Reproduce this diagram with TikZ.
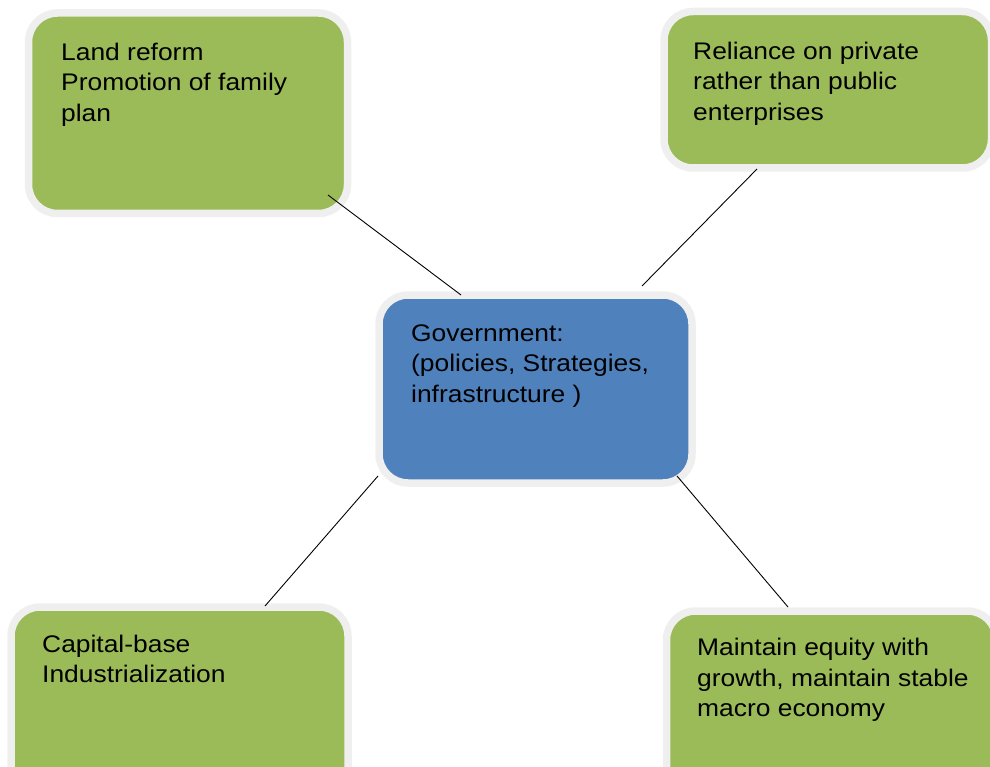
\documentclass[tikz,border=0pt]{standalone}
\usepackage{fontspec}
\setmainfont{Liberation Sans}[FakeStretch=1.1]
\definecolor{boxgreen}{HTML}{9BBB59}
\definecolor{boxblue}{HTML}{4F81BD}
\definecolor{rimgray}{HTML}{EFEFEF}
\tikzset{
  card/.style={draw=rimgray, line width=7.5pt, rounded corners=29pt, inner sep=0pt},
  greencard/.style={card, fill=boxgreen},
  bluecard/.style={card, fill=boxblue},
  label/.style={anchor=base west, inner sep=0pt, align=left, font=\fontsize{24pt}{30.5pt}\selectfont},
  link/.style={draw=black, line width=0.9pt}
}
\begin{document}
\begin{tikzpicture}[x=1pt, y=-1pt]
\useasboundingbox (0,0) rectangle (990,767);
% boxes
\node[greencard, minimum width=319pt, minimum height=200.5pt] (tl) at (188,113.25) {};
\node[greencard, minimum width=327.5pt, minimum height=156.5pt] (tr) at (827.75,89.75) {};
\node[bluecard, minimum width=313pt, minimum height=188pt] (gov) at (535.5,389) {};
\node[greencard, minimum width=337pt, minimum height=203pt] (bl) at (179.5,708.5) {};
\node[greencard, minimum width=330pt, minimum height=200pt] (br) at (831.5,711) {};
% texts (anchored at the baseline of their last line)
\node[label] (tltext) at (61,121.5) {Land reform\\Promotion of family\\plan};
\node[label] (trtext) at (693,120.5) {Reliance on private\\rather than public\\enterprises};
\node[label] (govtext) at (411,402) {Government:\\(policies, Strategies,\\infrastructure )};
\node[label] (bltext) at (42,682.5) {Capital-base\\Industrialization};
\node[label] (brtext) at (697,716.5) {Maintain equity with\\growth, maintain stable\\macro economy};
% connector ends
\coordinate (c1a) at (328,195);
\coordinate (c1b) at (461,295);
\coordinate (c2a) at (757,169);
\coordinate (c2b) at (642,286);
\coordinate (c3a) at (378,476);
\coordinate (c3b) at (265,606);
\coordinate (c4a) at (677,476);
\coordinate (c4b) at (788,607);
\draw[link] (c1a) -- (c1b);
\draw[link] (c2a) -- (c2b);
\draw[link] (c3a) -- (c3b);
\draw[link] (c4a) -- (c4b);
\end{tikzpicture}
\end{document}
